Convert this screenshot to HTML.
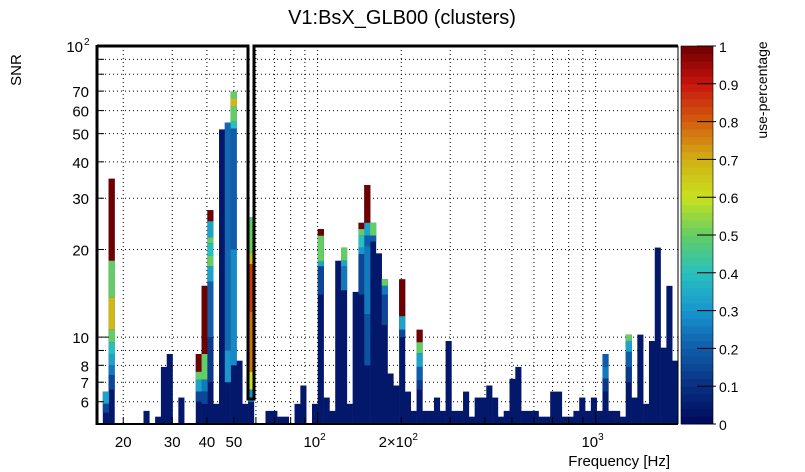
<!DOCTYPE html>
<html><head><meta charset="utf-8">
<style>
body{margin:0;background:#fff;}
svg{display:block;font-family:"Liberation Sans",sans-serif;}
</style></head>
<body>
<svg id="chart" width="805" height="472" viewBox="0 0 805 472">
  <text x="402" y="24" font-size="20" text-anchor="middle">V1:BsX_GLB00 (clusters)</text>
  <text x="0" y="0" font-size="15" text-anchor="middle" transform="translate(21,70) rotate(-90)">SNR</text>
  <text x="670" y="466" font-size="15" text-anchor="end">Frequency [Hz]</text>
  <text x="0" y="0" font-size="14" text-anchor="middle" transform="translate(767,90) rotate(-90)">use-percentage</text>
  <g id="grid"></g>
  <g id="bars"></g>
  <g id="axes"></g>
  <g id="cbar"></g>
</svg>
<script>
// ---- data ----
const nBins = 100;
const freqMin = 16.09, freqMax = 1979;
const snrMax = [0,6.5,35,0,0,0,0,0,5.58,0,5.33,7.9,8.75,0,6.2,0,0,8.75,15,27.3,
5.9,51.7,54.6,69.8,8.3,5.9,25.8,0,0,5.58,5.58,5.33,5.33,0,5.9,6.82,0,5.9,23.5,6.2,
5.58,18.3,20.3,5.9,14.3,24.7,33.3,24.7,19.4,15.8,7.5,6.82,15.8,6.5,5.58,10.6,5.58,5.58,6.2,5.58,
9.7,5.58,5.58,6.5,5.33,6.2,6.2,6.82,6.2,5.33,5.58,7.19,7.9,5.58,5.58,5.58,5.33,5.33,6.5,6.5,
5.33,5.33,5.58,6.2,5.58,6.2,5.58,8.75,5.58,5.58,5.33,10.2,6.2,10.2,5.9,9.7,20.3,9.2,15,8.3];
const segBin = [1,1, 2,2,2,2,2,2,2,2, 17,17,17,17, 18,18,18,18, 19,19,19,19,19,19,19,19,
 22,22, 23,23,23,23,23,23, 26,26,26,26,26,26, 38,38,38,38, 42,42,42, 45,45,45,45,45,
 46,46,46,46,46, 47,47, 49,49,49, 52,52,52, 55,55,55,55,55, 87,87,87, 91,91,91,91];
const segLo = [5.9,5.5, 18.3,13.7,10.6,9.6,8.7,8.0,7.4,6.6, 7.6,7.15,6.5,6.0, 8.75,7.15,6.5,5.9, 25,22,21,19,17.5,15.5,10,7,
 9,7, 66,62,55,52,20,8, 19.5,17.8,12.2,7.6,6.6,6.0, 22.3,18.2,17.5,14, 18.3,17.5,14.5, 23.5,22.3,20.3,19.3,14,
 24.7,22.3,20.5,12,8, 22.3,21.3, 15,14,11, 11.8,10.6,10, 9.6,8.8,7.9,7.1,6.6, 7.9,7.2,6.5, 9.7,8.9,7.9,7];
const segHi = [6.5,5.9, 35,18.3,13.7,10.6,9.6,8.7,8.0,7.4, 8.75,7.6,7.15,6.5, 15,8.75,7.15,6.5, 27.3,25,22,21,19,17.5,15.5,10,
 54.6,9, 69.8,66,62,55,52,20, 25.8,19.5,17.8,12.2,7.6,6.6, 23.5,22.3,18.2,17.5, 20.3,18.3,17.5, 24.7,23.5,22.3,20.3,19.3,
 33.3,24.7,22.3,20.5,12, 24.7,22.3, 15.8,15,14, 15.8,11.8,10.6, 10.6,9.6,8.8,7.9,7.1, 8.75,7.9,7.2, 10.2,9.7,8.9,7.9];
const segUse = [0.33,0.15, 1,0.5,0.68,0.5,0.4,0.33,0.25,0.15, 1,0.5,0.33,0.15, 1,0.5,0.25,0.15, 1,0.33,0.5,0.4,0.5,0.33,0.2,0.12,
 0.22,0.3, 0.5,0.68,0.5,0.4,0.2,0.28, 0.5,0.68,0.85,0.78,0.6,0.3, 1,0.5,0.33,0.15, 0.5,0.33,0.25, 1,0.5,0.4,0.3,0.15,
 1,0.33,0.2,0.25,0.18, 0.5,0.2, 0.5,0.25,0.15, 1,0.33,0.15, 1,0.5,0.33,0.2,0.12, 0.2,0.25,0.12, 0.5,0.33,0.2,0.12];
const yTickVals = [6,7,8,10,20,30,40,50,60,70];
const yMinorVals = [6,7,8,9,10,20,30,40,50,60,70,80,90];
const xTickVals = [20,30,40,50,100,200,1000];
const xTickLabels = ["20","30","40","50","10|2","2×10|2","10|3"];
const xMinorVals = [20,30,40,50,60,70,80,90,100,200,300,400,500,600,700,800,900,1000];
const cbTicks = [0,0.1,0.2,0.3,0.4,0.5,0.6,0.7,0.8,0.9,1];

// ---- geometry ----
const L=97, R=678, T=46, B=424;
const yMin=5.03, yMaxV=100;
const NS="http://www.w3.org/2000/svg";
function xs(f){return L+(Math.log10(f)-Math.log10(freqMin))/(Math.log10(freqMax)-Math.log10(freqMin))*(R-L);}
function ys(v){return B-(Math.log10(v)-Math.log10(yMin))/(Math.log10(yMaxV)-Math.log10(yMin))*(B-T);}
function binEdge(i){return Math.pow(10,Math.log10(freqMin)+i*(Math.log10(freqMax)-Math.log10(freqMin))/nBins);}
const stops=[[0,[0,8,90]],[0.1,[8,48,130]],[0.2,[16,92,170]],[0.3,[24,150,205]],[0.4,[40,192,190]],[0.5,[100,205,100]],
[0.6,[200,225,30]],[0.7,[210,175,20]],[0.8,[210,95,15]],[0.9,[200,20,15]],[1,[110,0,0]]];
function cmap(u){for(let k=1;k<stops.length;k++){if(u<=stops[k][0]){const a=stops[k-1],b=stops[k];const t=(u-a[0])/(b[0]-a[0]);
return 'rgb('+a[1].map((c,j)=>Math.round(c+(b[1][j]-c)*t)).join(',')+')';}}return 'rgb(110,0,0)';}
function mk(tag,attrs,parent){const e=document.createElementNS(NS,tag);for(const k in attrs)e.setAttribute(k,attrs[k]);parent.appendChild(e);return e;}

const grid=document.getElementById('grid'), bars=document.getElementById('bars'), axes=document.getElementById('axes'), cbar=document.getElementById('cbar');
// grid
yMinorVals.forEach(v=>{const l=mk('line',{x1:L,x2:R,y1:ys(v),y2:ys(v),stroke:'#000','stroke-width':1,'stroke-dasharray':'1,3'},grid);

});
xMinorVals.forEach(v=>{const l=mk('line',{x1:xs(v),x2:xs(v),y1:T,y2:B,stroke:'#000','stroke-width':1,'stroke-dasharray':'1,3'},grid);

});
// bars
for(let i=0;i<nBins;i++){ if(!snrMax[i]) continue;
  const x0=xs(binEdge(i)), x1=xs(binEdge(i+1));
  const r=mk('rect',{x:x0,y:ys(snrMax[i]),width:x1-x0+0.3,height:B-ys(snrMax[i]),fill:cmap(0.04)},bars);
  
  
}
for(let k=0;k<segBin.length;k++){const i=segBin[k];
  const x0=xs(binEdge(i)), x1=xs(binEdge(i+1));
  const r=mk('rect',{x:x0,y:ys(segHi[k]),width:x1-x0+0.3,height:ys(segLo[k])-ys(segHi[k]),fill:cmap(segUse[k])},bars);
  
  
}
// axes frame
mk('line',{x1:L,x2:L,y1:T-1,y2:B+1,stroke:'#000','stroke-width':3},axes);
mk('line',{x1:L,x2:R,y1:B,y2:B,stroke:'#000','stroke-width':2},axes);
mk('line',{x1:R,x2:R,y1:T,y2:B,stroke:'#000','stroke-width':1},axes);
const box=mk('path',{d:`M${L},${T} L248,${T} L248,399 L254,399 L254,${T} L${R},${T}`,fill:'none',stroke:'#000','stroke-width':3},axes);


yMinorVals.concat([100]).forEach(v=>{mk('line',{x1:L,x2:L+(v===10||v===100?12:7),y1:ys(v),y2:ys(v),stroke:'#000','stroke-width':1},axes);});
yTickVals.forEach(v=>{const t=mk('text',{x:89,y:ys(v)+6,'font-size':15,'text-anchor':'end'},axes);t.textContent=v;

});
{const t=mk('text',{x:83,y:ys(100)+6,'font-size':15,'text-anchor':'end'},axes);t.textContent='10';


const s=mk('text',{x:84,y:ys(100)-1,'font-size':10},axes);s.textContent='2';}
xMinorVals.forEach(v=>{mk('line',{x1:xs(v),x2:xs(v),y1:B,y2:B-((v===100||v===1000)?12:7),stroke:'#000','stroke-width':1},axes);});
xTickVals.forEach((v,k)=>{const parts=xTickLabels[k].split('|');
  const t=mk('text',{x:xs(v)-(parts.length>1?3:0),y:447,'font-size':15,'text-anchor':'middle'},axes);
  
  
  t.textContent=parts[0];
  if(parts.length>1){const s=document.createElementNS(NS,'tspan');s.setAttribute('dy','-7');s.setAttribute('font-size','10');s.textContent=parts[1];t.appendChild(s);}
});
// colorbar
const cx=681, cw=32, nSteps=50;
for(let s=0;s<nSteps;s++){const y0=B-(s+1)*(B-T)/nSteps;
  mk('rect',{x:cx,y:y0,width:cw,height:(B-T)/nSteps+0.5,fill:cmap((s+0.5)/nSteps)},cbar);}
mk('rect',{x:cx,y:T,width:cw,height:B-T,fill:'none',stroke:'#000','stroke-width':0.6},cbar);
cbTicks.forEach(v=>{const y=B-v*(B-T);
  mk('line',{x1:cx+16,x2:cx+cw+3,y1:y,y2:y,stroke:'#000','stroke-width':1},cbar);
  const t=mk('text',{x:719,y:y+6,'font-size':14},cbar);t.textContent=String(v);
  
  });
</script>
</body></html>
